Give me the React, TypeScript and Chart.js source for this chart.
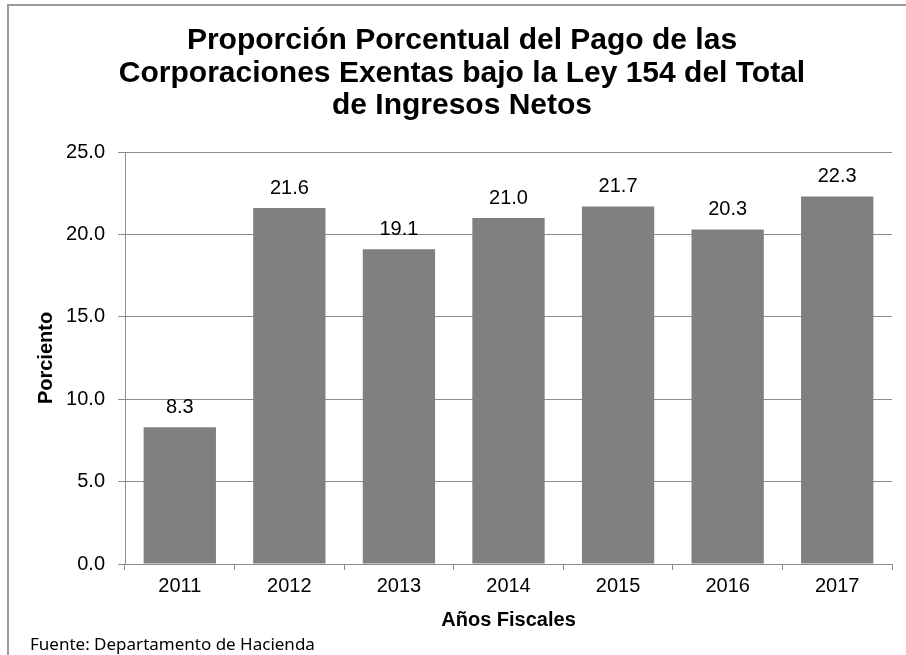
import React, { useEffect, useRef } from "react";
import { Chart, registerables } from "chart.js";

Chart.register(...registerables);

const categories = ["2011", "2012", "2013", "2014", "2015", "2016", "2017"];
const values = [8.3, 21.6, 19.1, 21.0, 21.7, 20.3, 22.3];
const titleLines = [
  "Proporción Porcentual del Pago de las",
  "Corporaciones Exentas bajo la Ley 154 del Total",
  "de Ingresos Netos",
];
const yAxisTitle = "Porciento";
const xAxisTitle = "Años Fiscales";
const footerText = "Fuente: Departamento de Hacienda";

const FONT = "'Liberation Sans', Arial, sans-serif";

const decorPlugin = {
  id: "decor",
  beforeDraw(chart: any) {
    const ctx = chart.ctx;
    ctx.save();
    ctx.fillStyle = "#ffffff";
    ctx.fillRect(0, 0, chart.width, chart.height);
    ctx.strokeStyle = "#9a9a9a";
    ctx.lineWidth = 2;
    ctx.beginPath();
    ctx.moveTo(8, chart.height + 5);
    ctx.lineTo(8, 5);
    ctx.lineTo(chart.width + 5, 5);
    ctx.stroke();
    // title
    ctx.fillStyle = "#000000";
    ctx.font = `bold 30px ${FONT}`;
    ctx.textAlign = "center";
    ctx.textBaseline = "middle";
    try { (ctx as any).letterSpacing = "0px"; } catch (e) {}
    titleLines.forEach((t, i) => {
      ctx.fillText(t, 462, 41 + i * 32.5);
    });
    // footer
    ctx.font = `17px 'Noto Sans', 'Open Sans', sans-serif`;
    ctx.textAlign = "left";
    ctx.textBaseline = "middle";
    ctx.fillText(footerText, 30, 645);
    ctx.restore();
  },
  afterDatasetsDraw(chart: any) {
    const ctx = chart.ctx;
    const meta = chart.getDatasetMeta(0);
    ctx.save();
    ctx.fillStyle = "#000000";
    ctx.font = `20px ${FONT}`;
    ctx.textAlign = "center";
    ctx.textBaseline = "alphabetic";
    meta.data.forEach((bar: any, i: number) => {
      const v = chart.data.datasets[0].data[i] as number;
      ctx.fillText(v.toFixed(1), bar.x, bar.y - 14);
    });
    ctx.restore();
  },
};

export default function App() {
  const canvasRef = useRef<HTMLCanvasElement | null>(null);

  useEffect(() => {
    document.body.style.margin = "0";
    const canvas = canvasRef.current;
    if (!canvas) return;
    const chart = new Chart(canvas, {
      type: "bar",
      data: {
        labels: categories,
        datasets: [
          {
            data: values,
            backgroundColor: "#808080",
            borderWidth: 0,
            barPercentage: 0.66,
            categoryPercentage: 1,
          },
        ],
      },
      options: {
        animation: false,
        responsive: false,
        maintainAspectRatio: false,
        devicePixelRatio: 1,
        layout: { padding: { left: 0, top: 152, right: 14, bottom: 0 } },
        plugins: {
          legend: { display: false },
          title: { display: false },
          tooltip: { enabled: false },
        },
        scales: {
          x: {
            afterFit: (scale: any) => {
              scale.height = 91;
            },
            grid: {
              offset: true,
              drawOnChartArea: false,
              drawTicks: true,
              tickLength: 6,
              color: "#8c8c8c",
            },
            border: { color: "#8c8c8c", width: 1 },
            ticks: {
              color: "#000000",
              font: { family: FONT, size: 20 },
              padding: 4,
              maxRotation: 0,
            },
            title: {
              display: true,
              text: xAxisTitle,
              color: "#000000",
              font: { family: FONT, size: 20, weight: "bold" },
              padding: { top: 0, bottom: 23 },
            },
          },
          y: {
            min: 0,
            max: 25,
            afterFit: (scale: any) => {
              scale.width = 125;
            },
            grid: {
              color: "#8c8c8c",
              drawTicks: true,
              tickLength: 7,
            },
            border: { color: "#8c8c8c", width: 1 },
            ticks: {
              stepSize: 5,
              color: "#000000",
              font: { family: FONT, size: 20 },
              padding: 13,
              callback: (v: any) => Number(v).toFixed(1),
            },
            title: {
              display: true,
              text: yAxisTitle,
              color: "#000000",
              font: { family: FONT, size: 20, weight: "bold" },
              padding: { top: 34, bottom: 0 },
            },
          },
        },
      },
      plugins: [decorPlugin],
    } as any);
    return () => chart.destroy();
  }, []);

  return (
    <div style={{ position: "absolute", left: 0, top: 0, width: 906, height: 655 }}>
      <canvas ref={canvasRef} width={906} height={655} style={{ width: 906, height: 655, display: "block" }} />
    </div>
  );
}
